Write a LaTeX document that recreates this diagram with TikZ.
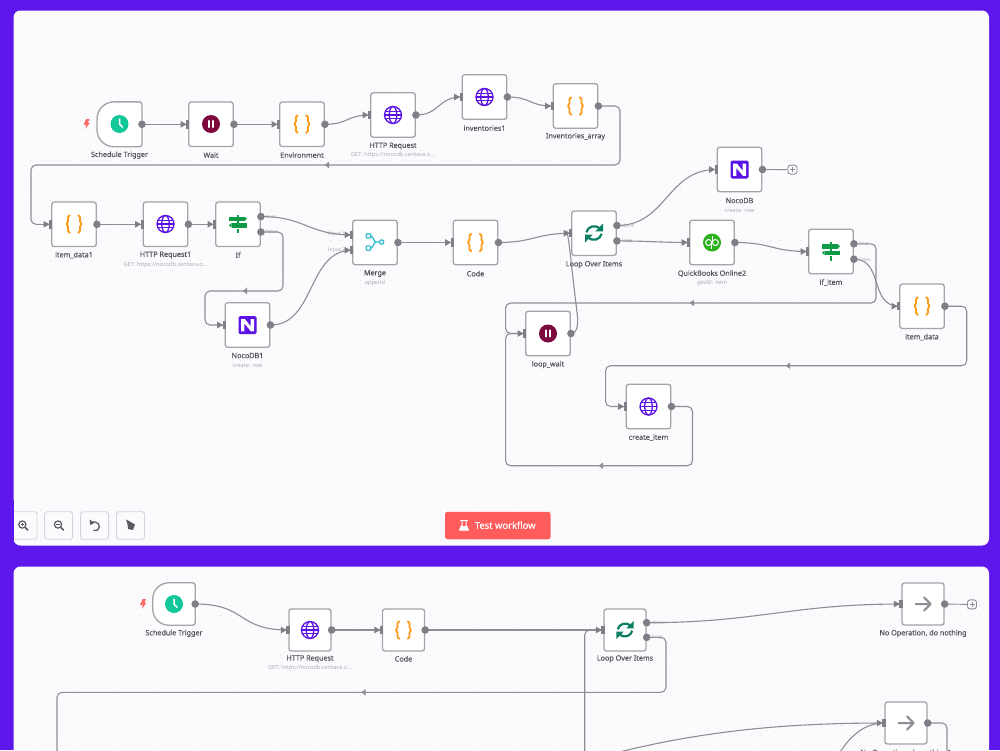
\documentclass[tikz,border=0pt]{standalone}
\usepackage{fontspec}
\setmainfont{Noto Sans}
\newfontfamily\medfont[FakeBold=0.3]{Noto Sans}
\usetikzlibrary{calc}
\definecolor{bgpurple}{HTML}{5E17EB}
\definecolor{panelbg}{HTML}{FBFBFD}
\definecolor{griddot}{HTML}{E2E2E8}
\definecolor{linec}{HTML}{8E8E94}
\definecolor{boxc}{HTML}{A4A4AA}
\definecolor{portc}{HTML}{7F7F88}
\definecolor{labc}{HTML}{55555C}
\definecolor{subc}{HTML}{ABABB2}
\definecolor{iconpurple}{HTML}{5B12E6}
\definecolor{iconorange}{HTML}{FF9B1A}
\definecolor{iconclock}{HTML}{14C79A}
\definecolor{iconpause}{HTML}{7D0A3C}
\definecolor{iconsign}{HTML}{0E9A47}
\definecolor{iconmerge}{HTML}{35BDD2}
\definecolor{iconloop}{HTML}{0C7F63}
\definecolor{iconqb}{HTML}{2CB01C}
\definecolor{testred}{HTML}{FF5C5C}
\definecolor{boltred}{HTML}{FF6B6B}
\definecolor{btnc}{HTML}{D4D4DA}
\definecolor{btnicon}{HTML}{5A5A62}
\tikzset{
  conn/.style={draw=linec,line width=1.1pt,rounded corners=5pt},
  nbox/.style={draw=boxc,line width=1.35pt,fill=white,rounded corners=2.5pt,minimum size=44.5pt,inner sep=0pt},
  sbox/.style={nbox,minimum size=42pt},
  tribox/.style={minimum size=44.5pt,inner sep=0pt},
  lab/.style={font=\fontsize{7.2}{8}\selectfont\medfont,text=labc,inner sep=0pt,yshift=-0.6pt},
  sublab/.style={font=\fontsize{5.6}{6}\selectfont,text=subc,inner sep=0pt,yshift=-0.5pt},
  portlab/.style={font=\fontsize{5}{6}\selectfont,text=subc,inner sep=0pt},
  btn/.style={draw=btnc,line width=0.9pt,fill=panelbg,rounded corners=2.5pt,inner sep=0pt},
  ic/.style={line cap=round,line join=round},
  dotrow/.style={draw=griddot,line width=0.9pt,dash pattern=on 0.9pt off 9.1pt},
}
% icons
\newcommand{\icGlobe}[2]{\begin{scope}[shift={(#1,#2)},draw=iconpurple,line width=1.3pt]
  \draw (0,0) circle[radius=8.5pt];
  \draw (0,0) ellipse[x radius=3.8pt,y radius=8.5pt];
  \draw (-8.5,0)--(8.5,0) (-7.6,-3.7)--(7.6,-3.7) (-7.6,3.7)--(7.6,3.7);
\end{scope}}
\newcommand{\icClock}[2]{\begin{scope}[shift={(#1,#2)}]
  \fill[iconclock] (0,0) circle[radius=9pt];
  \draw[white,line width=1.5pt,ic] (0,-5)--(0,0)--(3,3.2);
\end{scope}}
\newcommand{\icPause}[2]{\begin{scope}[shift={(#1,#2)}]
  \fill[iconpause] (0,0) circle[radius=9pt];
  \draw[white,line width=2.2pt,ic] (-2.3,-3)--(-2.3,3) (2.3,-3)--(2.3,3);
\end{scope}}
\newcommand{\icBraces}[2]{\begin{scope}[shift={(#1,#2)},iconorange,line width=1.8pt,rounded corners=1.6pt,ic]
  \draw (-4.2,-8.6)--(-6,-8.6)--(-6,-1)--(-8.4,0)--(-6,1)--(-6,8.6)--(-4.2,8.6);
  \draw (4.2,-8.6)--(6,-8.6)--(6,-1)--(8.4,0)--(6,1)--(6,8.6)--(4.2,8.6);
\end{scope}}
\newcommand{\icNoco}[2]{\begin{scope}[shift={(#1,#2)}]
  \fill[iconpurple,rounded corners=1.5pt] (-9,-9) rectangle (9,9);
  \fill[white] (-6.5,-6) -- (-2.6,-6) -- (3.2,1.4) -- (3.2,-6) -- (6.5,-6) -- (6.5,6.3) -- (3.4,6.3) -- (-3.2,-1.6) -- (-3.2,6.3) -- (-6.5,6.3) -- cycle;
\end{scope}}
\newcommand{\icSign}[2]{\begin{scope}[shift={(#1,#2)}]
  \fill[iconsign] (-8.6,-7.4) rectangle (6.5,-3);
  \fill[iconsign] (6.5,-7.4) -- (9,-5.2) -- (6.5,-3) -- cycle;
  \fill[iconsign] (-6.5,-1) rectangle (8.6,3.6);
  \fill[iconsign] (-6.5,-1) -- (-9,1.3) -- (-6.5,3.6) -- cycle;
  \fill[iconsign] (-1,-9.2) rectangle (1,-7.4);
  \fill[iconsign] (-1,-3) rectangle (1,-1);
  \fill[iconsign] (-1,4.6) rectangle (1,9);
\end{scope}}
\newcommand{\icMerge}[2]{\begin{scope}[shift={(#1,#2)},iconmerge,line width=1.3pt,ic]
  \draw[rounded corners=0.6pt] (-8.8,-8.2) rectangle (-4.4,-4);
  \draw[rounded corners=0.6pt] (-8.8,4) rectangle (-4.4,8.2);
  \draw (6.6,0) circle[radius=2.2pt];
  \draw (-4.4,-6) .. controls (-1.5,-6) and (-1.5,0) .. (1,0) -- (4.4,0);
  \draw (-4.4,6) .. controls (-1.5,6) and (-1.5,0) .. (1,0);
\end{scope}}
\newcommand{\icLoop}[3]{\begin{scope}[shift={(#1,#2)},scale=#3]
  \draw[iconloop,line width=2.2pt] (-7.6,-0.8) .. controls (-6.5,-6) and (1,-9.6) .. (6,-4);
  \fill[iconloop] (9,-9.5) -- (9,-1.6) -- (1.2,-1.6) -- cycle;
  \draw[iconloop,line width=2.2pt] (7.6,0.8) .. controls (6.5,6) and (-1,9.6) .. (-6,4);
  \fill[iconloop] (-9,9.5) -- (-9,1.6) -- (-1.2,1.6) -- cycle;
\end{scope}}
\newcommand{\icQb}[2]{\begin{scope}[shift={(#1,#2)}]
  \fill[iconqb] (0,0) circle[radius=9pt];
  \draw[white,line width=1pt] (-3.4,0) circle[radius=3pt] (3.4,0) circle[radius=3pt];
  \draw[white,line width=1pt] (-0.4,0)--(-0.4,6.6) (0.4,0)--(0.4,-6.6);
\end{scope}}
\newcommand{\icArrow}[2]{\begin{scope}[shift={(#1,#2)},linec,line width=2pt,ic]
  \draw (-7.4,0)--(7.4,0) (1,-6.6)--(7.6,0)--(1,6.6);
\end{scope}}
\newcommand{\icBolt}[2]{\fill[boltred,shift={(#1,#2)}] (-0.5,-4.8) -- (3,-4.8) -- (1.4,-1.2) -- (3.4,-1.2) -- (-1,4.8) -- (-0.4,0.8) -- (-3,0.8) -- cycle;}
% ports
\newcommand{\outP}[1]{\fill[portc] (#1) circle[radius=3.8pt];}
\newcommand{\inP}[1]{\fill[portc] ([xshift=-2pt,yshift=-4.2pt]#1) rectangle ([xshift=1.4pt,yshift=4.2pt]#1);
  \fill[portc] ([xshift=-1.5pt]#1) -- ([xshift=-7.5pt,yshift=3.4pt]#1) -- ([xshift=-7.5pt,yshift=-3.4pt]#1) -- cycle;}
\newcommand{\midA}[2]{\fill[linec] (#1-2.4,#2) -- (#1+2,#2-3.2) -- (#1+2,#2+3.2) -- cycle;}
\begin{document}
\begin{tikzpicture}[x=1pt,y=-1pt]
\useasboundingbox (0,0) rectangle (1000,750);
\clip (0,0) rectangle (1000,750);
\fill[bgpurple] (0,0) rectangle (1000,750);
\fill[panelbg,rounded corners=7pt] (13.5,10.5) rectangle (989,545.5);
\fill[panelbg,rounded corners=7pt] (13.5,566.5) rectangle (989,780);
\foreach \y in {20,30,...,540}{\draw[dotrow] (20,\y) -- (985,\y);}
\foreach \y in {575,585,...,745}{\draw[dotrow] (20,\y) -- (985,\y);}
% ===== top panel nodes =====
\node[tribox] (st) at (119.5,124.3) {};
\draw[draw=boxc,line width=1.35pt,fill=white,rounded corners=2.5pt]
  (st.north east) -- (st.south east) [rounded corners=17pt] -- (st.south west) -- (st.north west) [rounded corners=2.5pt] -- cycle;
\node[nbox] (wait) at (211,124.3) {};
\node[nbox] (env) at (302,124.3) {};
\node[nbox] (http) at (393,115) {};
\node[nbox] (inv1) at (484.5,97) {};
\node[nbox] (invarr) at (575.5,106) {};
\node[nbox] (item1) at (74,224.3) {};
\node[nbox] (http1) at (165.5,224.3) {};
\node[nbox] (ifn) at (238,224.3) {};
\node[nbox] (merge) at (375,242.5) {};
\node[nbox] (noco1) at (247.5,325) {};
\node[nbox] (code) at (475.5,242.5) {};
\node[nbox] (loop) at (594,233.2) {};
\node[nbox] (noco) at (739.5,169.5) {};
\node[nbox] (qb) at (712,242.5) {};
\node[nbox] (ifitem) at (831,251.5) {};
\node[nbox] (itemd) at (922,306.2) {};
\node[nbox] (lwait) at (548,333.5) {};
\node[nbox] (create) at (648.5,406.5) {};
\node[btn,draw=linec,minimum width=9pt,minimum height=9pt] (plusa) at (792.5,169.6) {};
\draw[linec,line width=0.7pt] (792.5,167)--(792.5,172.2) (789.9,169.6)--(795.1,169.6);
% icons
\icBolt{86.5}{124}
\icClock{119.5}{124}\icPause{211}{124}\icBraces{302}{124}\icGlobe{393}{115}\icGlobe{484.5}{97}\icBraces{575.5}{106}
\icBraces{74}{224}\icGlobe{165.5}{224}\icSign{238}{224}\icMerge{375}{242}\icNoco{247.5}{325}
\icBraces{475.5}{242.5}\icLoop{594}{233}{1}\icNoco{739.5}{169.5}\icQb{712}{242.5}\icSign{831}{251.5}\icBraces{922}{306}\icPause{548}{333.5}\icGlobe{648.5}{406.5}
% labels
\node[lab] (t1) at (119.5,154.5) {Schedule Trigger};
\node[lab] (t2) at (211,154.5) {Wait};
\node[lab] (t3) at (302,154.5) {Environment};
\node[lab] (t4) at (393,145.5) {HTTP Request};
\node[sublab] (t4s) at (393,155) {GET: https://nocodb.centava.o...};
\node[lab] (t5) at (484.5,127.5) {inventories1};
\node[lab] (t6) at (575.5,136) {Inventories\_array};
\node[lab] (t7) at (74,254.5) {item\_data1};
\node[lab] (t8) at (165.5,254.5) {HTTP Request1};
\node[sublab] (t8s) at (165.5,264.8) {GET: https://nocodb.centava.o...};
\node[lab] (t9) at (238,254.5) {If};
\node[lab] (t10) at (375,273) {Merge};
\node[sublab] (t10s) at (375,283) {append};
\node[lab] (t11) at (247.5,355) {NocoDB1};
\node[sublab] (t11s) at (247.5,365) {create: row};
\node[lab] (t12) at (475.5,273) {Code};
\node[lab] (t13) at (594,264) {Loop Over Items};
\node[lab] (t14) at (739.5,200) {NocoDB};
\node[sublab] (t14s) at (739.5,210) {create: row};
\node[lab] (t15) at (712,273) {QuickBooks Online2};
\node[sublab] (t15s) at (712,283) {getAll: item};
\node[lab] (t16) at (831,282) {if\_item};
\node[lab] (t17) at (922,336.5) {item\_data};
\node[lab] (t18) at (548,364) {loop\_wait};
\node[lab] (t19) at (648.5,437) {create\_item};
% named ports
\coordinate (iftrue) at ([yshift=7.7pt]ifn.east);
\coordinate (iffalse) at ([yshift=-7.7pt]ifn.east);
\coordinate (in1) at ([yshift=7.7pt]merge.west);
\coordinate (in2) at ([yshift=-7.7pt]merge.west);
\coordinate (ldone) at ([yshift=7.7pt]loop.east);
\coordinate (lloop) at ([yshift=-7.7pt]loop.east);
\coordinate (itrue) at ([yshift=7.7pt]ifitem.east);
\coordinate (ifalse) at ([yshift=-7.7pt]ifitem.east);
\node[portlab,anchor=west] (p1) at ($(iftrue)+(5,0)$) {true};
\node[portlab,anchor=west] (p2) at ($(iffalse)+(5,0)$) {false};
\node[portlab,anchor=east] (p3) at ($(in1)+(-7,0)$) {Input 1};
\node[portlab,anchor=east] (p4) at ($(in2)+(-7,0)$) {Input 2};
\node[portlab,anchor=west] (p5) at ($(ldone)+(5,0)$) {done};
\node[portlab,anchor=west] (p6) at ($(lloop)+(5,0)$) {loop};
\node[portlab,anchor=west] (p7) at ($(itrue)+(5,0)$) {true};
\node[portlab,anchor=west] (p8) at ($(ifalse)+(5,0)$) {false};
% connectors
\draw[conn] (st.east) -- (wait.west);
\draw[conn] (wait.east) -- (env.west);
\draw[conn] (env.east) .. controls ++(24,0) and ($(http.west)+(-24,0)$) .. (http.west);
\draw[conn] (http.east) .. controls ++(24,0) and ($(inv1.west)+(-24,0)$) .. (inv1.west);
\draw[conn] (inv1.east) .. controls ++(24,0) and ($(invarr.west)+(-24,0)$) .. (invarr.west);
\draw[conn] (invarr.east) -- (620,106) -- (620,165) -- (31,165) -- (31,224.3) -- (item1.west);
\midA{327}{165}
\draw[conn] (item1.east) -- (http1.west);
\draw[conn] (http1.east) -- (ifn.west);
\draw[conn] (iftrue) .. controls ++(45,0) and ($(in1)+(-45,0)$) .. (in1);
\draw[conn] (iffalse) -- (283,232) -- (283,291) -- (205,291) -- (205,325) -- (noco1.west);
\midA{245}{291}
\draw[conn] (noco1.east) .. controls ++(45,0) and ($(in2)+(-45,0)$) .. (in2);
\draw[conn] (merge.east) -- (code.west);
\draw[conn] (code.east) .. controls ++(35,0) and ($(loop.west)+(-35,0)$) .. (loop.west);
\draw[conn] (ldone) .. controls ++(50,0) and ($(noco.west)+(-50,0)$) .. (noco.west);
\draw[conn] (lloop) .. controls ++(30,0) and ($(qb.west)+(-30,0)$) .. (qb.west);
\draw[conn] (qb.east) .. controls ++(37,0) and ($(ifitem.west)+(-37,0)$) .. (ifitem.west);
\draw[conn] (itrue) -- (876,243.8) -- (876,303) -- (505.6,303) -- (505.6,333.5) -- (lwait.west);
\midA{692}{303}
\draw[conn] (ifalse) .. controls ++(30,0) and ($(itemd.west)+(-30,0)$) .. (itemd.west);
\draw[conn] (itemd.east) -- (966.7,306.2) -- (966.7,365.7) -- (605.6,365.7) -- (605.6,406.5) -- (create.west);
\midA{788}{365.7}
\draw[conn] (create.east) -- (692.5,406.5) -- (692.5,465.7) -- (505.6,465.7) -- (505.6,333.5) -- (lwait.west);
\midA{601}{465.7}
\draw[conn] (lwait.east) .. controls (578,333.5) and (578,322) .. (577,312) .. controls (573,280) and (570,250) .. (568,237) .. controls (567.5,234) and (568,233.2) .. (loop.west);
\draw[linec,line width=0.9pt] (noco.east) -- (plusa.west);
% ports over connectors
\foreach \n in {st,wait,env,http,inv1,invarr,item1,http1,noco1,merge,code,noco,qb,itemd,lwait,create}{\outP{\n.east}}
\foreach \n in {iftrue,iffalse,ldone,lloop,itrue,ifalse}{\outP{\n}}
\foreach \n in {wait,env,http,inv1,invarr,item1,http1,ifn,noco1,code,loop,noco,qb,ifitem,itemd,lwait,create}{\inP{\n.west}}
\inP{in1}\inP{in2}
% toolbar
\node[btn,minimum width=28pt,minimum height=27.5pt] (b1) at (23,525.5) {};
\fill[bgpurple] (0,500) rectangle (13.5,560);
\node[btn,minimum width=28pt,minimum height=27.5pt] (b2) at (58.6,525.5) {};
\node[btn,minimum width=28pt,minimum height=27.5pt] (b3) at (94.6,525.5) {};
\node[btn,minimum width=28pt,minimum height=27.5pt] (b4) at (130.5,525.5) {};
\foreach \c in {22.3,58}{
  \draw[btnicon,line width=1.2pt] (\c,524.5) circle[radius=3.6pt];
  \draw[btnicon,line width=1.5pt,line cap=round] (\c+2.8,527.3) -- (\c+5.5,530);
}
\draw[btnicon,line width=0.8pt] (20.5,524.5)--(24.1,524.5) (22.3,522.7)--(22.3,526.3);
\draw[btnicon,line width=0.8pt] (56.2,524.5)--(59.8,524.5);
\draw[btnicon,line width=1.3pt] (90.5,523) .. controls (98,519) and (102,527) .. (97.5,530) .. controls (96,530.8) and (94.5,530.6) .. (93.5,530.2);
\fill[btnicon] (89.5,519.5) -- (90.2,525) -- (94.5,523) -- cycle;
\fill[btnicon] (126,519.5) -- (129,521) -- (135,524.5) -- (133,530) -- (128,529) -- (127.5,524) -- cycle;
% test button
\node[fill=testred,rounded corners=2.5pt,minimum width=105.5pt,minimum height=27.5pt,inner sep=0pt] (test) at (497.8,525.5) {};
\node[font=\fontsize{9.4}{10}\selectfont\medfont,text=white,inner sep=0pt] (testt) at (505.2,525.2) {Test workflow};
\fill[white] (460,520) rectangle (468,521);
\draw[white,line width=1pt,line join=round] (462,521) -- (462,525) -- (459.5,530) -- (468.5,530) -- (466,525) -- (466,521);
\fill[white] (461,526) -- (467,526) -- (468.5,530) -- (459.5,530) -- cycle;
% ===== bottom panel =====
\node[minimum size=42pt,inner sep=0pt] (st2) at (174,604) {};
\draw[draw=boxc,line width=1.35pt,fill=white,rounded corners=2.5pt]
  (st2.north east) -- (st2.south east) [rounded corners=16pt] -- (st2.south west) -- (st2.north west) [rounded corners=2.5pt] -- cycle;
\node[sbox] (http2) at (310,630) {};
\node[sbox] (code2) at (403.5,630) {};
\node[sbox] (loop2) at (625,630) {};
\node[sbox] (noop1) at (923,604) {};
\node[sbox] (noop2) at (906,723) {};
\node[btn,draw=linec,minimum width=9pt,minimum height=9pt] (plusb) at (972,604.4) {};
\draw[linec,line width=0.7pt] (972,601.9)--(972,606.9) (969.5,604.4)--(974.5,604.4);
\icBolt{143}{604}
\icClock{174}{604}\icGlobe{310}{630}\icBraces{403.5}{630}\icLoop{625}{630}{0.95}\icArrow{923}{604}\icArrow{906}{723}
\node[lab] (u1) at (174,632.8) {Schedule Trigger};
\node[lab] (u2) at (310,658.2) {HTTP Request};
\node[sublab] (u2s) at (310,667.7) {GET: https://nocodb.centava.o...};
\node[lab] (u3) at (403.5,658.2) {Code};
\node[lab] (u4) at (625,658.2) {Loop Over Items};
\node[lab] (u5) at (923,632.8) {No Operation, do nothing};
\node[lab] (u6) at (906,752.5) {No Operation, do nothing1};
\coordinate (ldone2) at ([yshift=7.3pt]loop2.east);
\coordinate (lloop2) at ([yshift=-7.3pt]loop2.east);
\node[portlab,anchor=west] (q1) at ($(ldone2)+(5,0)$) {done};
\node[portlab,anchor=west] (q2) at ($(lloop2)+(5,0)$) {loop};
\coordinate (offa) at (584.7,760);
\coordinate (offb) at (57,760);
\coordinate (offc) at (600,757);
\coordinate (offd) at (837,757);
\coordinate (offe) at (947,760);
\draw[conn] (st2.east) .. controls ++(52,0) and ($(http2.west)+(-52,0)$) .. (http2.west);
\draw[conn] (http2.east) -- (code2.west);
\draw[conn] (code2.east) -- (loop2.west);
\draw[conn] (offa) -- (584.7,630) -- (loop2.west);
\draw[conn] (ldone2) .. controls ++(110,0) and ($(noop1.west)+(-110,0)$) .. (noop1.west);
\draw[conn] (lloop2) -- (666,637.3) -- (666,692.3) -- (57,692.3) -- (offb);
\midA{363.5}{692.3}
\draw[conn] (offc) .. controls (700,730) and (790,723) .. (noop2.west);
\draw[conn] (offd) .. controls (850,735) and (865,723) .. (noop2.west);
\draw[conn] (noop2.east) -- (947,723) -- (offe);
\draw[linec,line width=0.9pt] (noop1.east) -- (plusb.west);
\foreach \n in {st2,http2,code2,noop1,noop2}{\outP{\n.east}}
\foreach \n in {ldone2,lloop2}{\outP{\n}}
\foreach \n in {http2,code2,loop2,noop1,noop2}{\inP{\n.west}}
\end{tikzpicture}
\end{document}
